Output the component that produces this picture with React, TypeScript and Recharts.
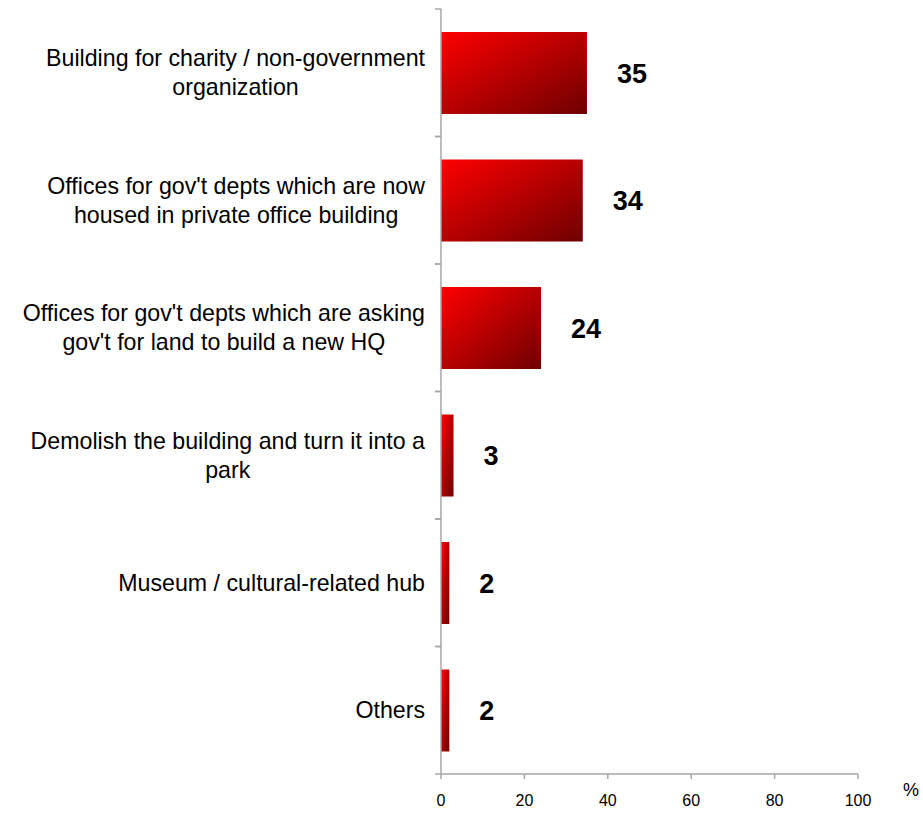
import { Bar, BarChart, LabelList, XAxis, YAxis } from "recharts"

const categories = [
  "Building for charity / non-government\norganization",
  "Offices for gov't depts which are now\nhoused in private office building",
  "Offices for gov't depts which are asking\ngov't for land to build a new HQ",
  "Demolish the building and turn it into a\npark",
  "Museum / cultural-related hub",
  "Others",
]
const percents = [35, 34, 24, 3, 2, 2]
const xTicks = [0, 20, 40, 60, 80, 100]

const data = categories.map((name, i) => ({ name, value: percents[i] }))

const FONT = "'Liberation Sans', Arial, sans-serif"
const W = 915
const H = 805
const MARGIN = { top: 1, right: 65, bottom: 9, left: 0 }
const X_AXIS_H = 30
const Y_AXIS_W = 433
const PLOT_H = H - MARGIN.top - MARGIN.bottom - X_AXIS_H
const BAND = PLOT_H / categories.length
const AXIS_COLOR = "#a6a6a6"

let ctx: CanvasRenderingContext2D | null = null
function measure(text: string, font: string) {
  if (!ctx) ctx = document.createElement("canvas").getContext("2d")
  if (!ctx) return text.length * 11
  ctx.font = font
  return ctx.measureText(text).width
}

function CategoryTick(props: any) {
  const { x, y, payload } = props
  const lines: string[] = String(payload.value).split("\n")
  const fontSize = 23.2
  const lineH = 29
  const widest = Math.max(...lines.map((l) => measure(l, `${fontSize}px ${FONT}`)))
  const cx = x - 16 - widest / 2
  const startY = y - ((lines.length - 1) * lineH) / 2
  return (
    <g>
      <line x1={x - 6} x2={x} y1={y - BAND / 2} y2={y - BAND / 2} stroke={AXIS_COLOR} strokeWidth={1.5} />
      <line x1={x - 6} x2={x} y1={y + BAND / 2} y2={y + BAND / 2} stroke={AXIS_COLOR} strokeWidth={1.5} />
      <text textAnchor="middle" fill="#000" fontSize={fontSize} fontFamily={FONT}>
        {lines.map((l, i) => (
          <tspan key={i} x={cx} y={startY + i * lineH} dominantBaseline="central">
            {l}
          </tspan>
        ))}
      </text>
    </g>
  )
}

function UnitLabel(props: any) {
  const { viewBox } = props
  return (
    <text
      x={viewBox.x + viewBox.width + 45}
      y={viewBox.y + 16}
      fill="#000"
      fontSize={18}
      fontFamily={FONT}
      dominantBaseline="central"
    >
      %
    </text>
  )
}

export default function App() {
  return (
    <div style={{ position: "absolute", left: 8, top: 8 }}>
      <BarChart width={W} height={H} data={data} layout="vertical" margin={MARGIN}>
        <defs>
          <linearGradient id="barGrad" x1="0" y1="0" x2="1" y2="1">
            <stop offset="0%" stopColor="#ff0000" />
            <stop offset="100%" stopColor="#6e0000" />
          </linearGradient>
        </defs>
        <XAxis
          type="number"
          domain={[0, 100]}
          ticks={xTicks}
          height={X_AXIS_H}
          stroke={AXIS_COLOR}
          strokeWidth={1.5}
          tickSize={5}
          tickMargin={16}
          tick={{ fill: "#000", fontSize: 16, fontFamily: FONT }}
          label={<UnitLabel />}
        />
        <YAxis
          type="category"
          dataKey="name"
          width={Y_AXIS_W}
          stroke={AXIS_COLOR}
          strokeWidth={1.5}
          tickLine={false}
          tickSize={0}
          tickMargin={0}
          interval={0}
          tick={<CategoryTick />}
        />
        <Bar dataKey="value" fill="url(#barGrad)" barSize={82} isAnimationActive={false}>
          <LabelList
            dataKey="value"
            position="right"
            offset={30}
            fill="#000"
            fontSize={27}
            fontWeight="bold"
            fontFamily={FONT}
          />
        </Bar>
      </BarChart>
    </div>
  )
}
